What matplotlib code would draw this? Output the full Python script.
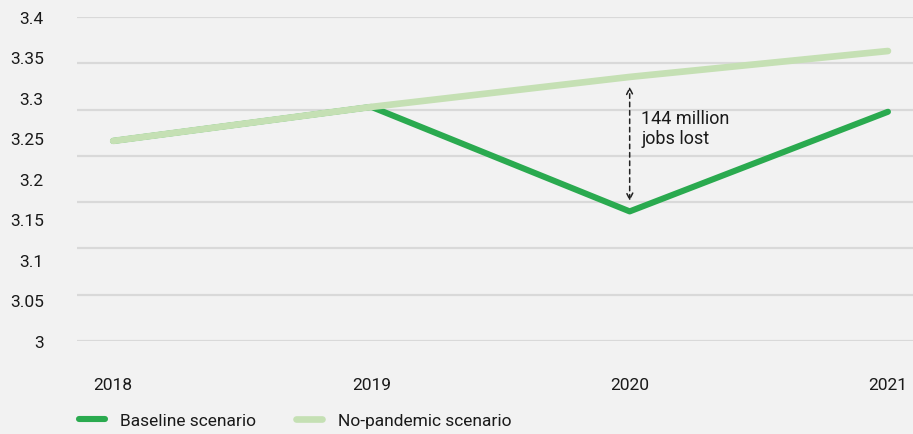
import numpy as np
import matplotlib.pyplot as plt

plt.rcParams['font.family'] = ['Roboto', 'DejaVu Sans']

# Data
years = [2018, 2019, 2020, 2021]
baseline = [3.247, 3.289, 3.160, 3.283]
no_pandemic = [3.247, 3.289, 3.326, 3.358]
y_ticks = [3, 3.05, 3.1, 3.15, 3.2, 3.25, 3.3, 3.35, 3.4]
y_labels = ['3', '3.05', '3.1', '3.15', '3.2', '3.25', '3.3', '3.35', '3.4']

bg = '#f2f2f2'
dark_green = '#2aaa4f'
light_green = '#c5e0b4'

fig = plt.figure(figsize=(9.13, 4.35), dpi=100, facecolor=bg)
ax = fig.add_axes([77 / 913, 1 - 342 / 435, 1 - 77 / 913, (342 - 18) / 435])
ax.set_facecolor(bg)

# gridlines (the original has 8 evenly spaced lines, not one per label)
for g in np.linspace(3.0, 3.4, 8):
    ax.axhline(g, color='#d9d9d9', lw=1.6, zorder=0)

ax.plot(years, baseline, color=dark_green, lw=4.4, solid_capstyle='round',
        label='Baseline scenario', zorder=2)
ax.plot(years, no_pandemic, color=light_green, lw=4.8, solid_capstyle='round',
        label='No-pandemic scenario', zorder=3)

# gap annotation
ax.annotate('', xy=(2020, 3.314), xytext=(2020, 3.173),
            arrowprops=dict(arrowstyle='<->', linestyle=(0, (3, 2.5)), color='#222222',
                            lw=1.1, mutation_scale=11, shrinkA=0, shrinkB=0))
ax.text(2020.045, 3.286, '144 million\njobs lost', fontsize=13, va='top', ha='left',
        color='#1a1a1a', linespacing=1.1)

ax.set_xlim(2017.86, 2021.097)
ax.set_ylim(3.0, 3.4)
ax.set_xticks(years)
ax.set_xticklabels([str(y) for y in years], fontsize=12.5, color='#1a1a1a')
ax.set_yticks(y_ticks)
ax.set_yticklabels(y_labels, fontsize=12.5, color='#1a1a1a')
ax.tick_params(length=0)
ax.tick_params(axis='x', pad=26)
ax.tick_params(axis='y', pad=24)
for s in ax.spines.values():
    s.set_visible(False)

fig.legend(loc='lower left', bbox_to_anchor=(0.069, -0.022),
           ncol=2, frameon=False, fontsize=12.5, handlelength=1.5, columnspacing=2.3,
           handletextpad=0.9, labelcolor='#1a1a1a')

fig.savefig('out.png', dpi=100, facecolor=bg)
